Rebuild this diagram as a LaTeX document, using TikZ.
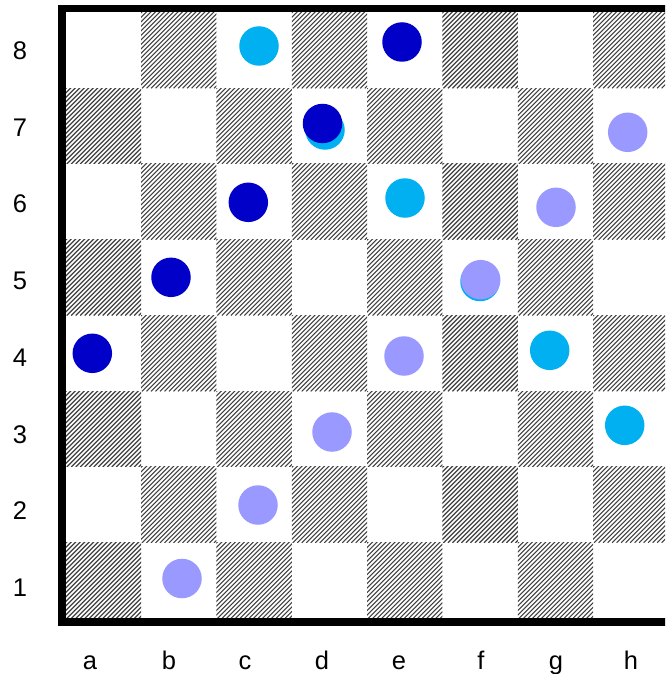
\documentclass[tikz,border=0pt]{standalone}
\usepackage{fontspec}
\setmainfont{Liberation Sans}
\definecolor{dkb}{HTML}{0000C8}
\definecolor{cyn}{HTML}{00B0F0}
\definecolor{lav}{HTML}{9999FF}
\begin{document}
\begin{tikzpicture}[x=1pt,y=-1pt,
  disc/.style={circle,inner sep=0pt,minimum size=39.5pt,draw=none},
  lbl/.style={font=\fontsize{25.5}{25.5}\selectfont,anchor=base,inner sep=0pt},
  hatchline/.style={line width=1.1pt,draw=black!75}]
\useasboundingbox (0,0) rectangle (665,674);
\clip (0,0) rectangle (665,674);
\fill[white] (0,0) rectangle (665,674);
% dark (hatched) squares
\foreach \c in {0,...,7}{
  \foreach \r in {0,...,7}{
    \pgfmathtruncatemacro\pp{mod(\c+\r,2)}
    \ifnum\pp=1
      \pgfmathsetmacro\xa{65.7+75.35*\c}
      \pgfmathsetmacro\ya{12.3+75.75*\r}
      \begin{scope}
        \clip (\xa,\ya) rectangle ++(75.35,75.75);
        \foreach \t in {-80,-75.5,...,80}{
          \draw[hatchline] (\xa+\t,\ya+76) -- ++(80,-80);
        }
      \end{scope}
    \fi
  }
}
% border
\draw[line width=7.6pt] (62,8.5) rectangle (673,622);
% rank labels
\node[lbl] (r8) at (20,59.5) {8};
\node[lbl] (r7) at (20,136.2) {7};
\node[lbl] (r6) at (20,212.9) {6};
\node[lbl] (r5) at (20,289.6) {5};
\node[lbl] (r4) at (20,366.3) {4};
\node[lbl] (r3) at (20,443.0) {3};
\node[lbl] (r2) at (20,519.7) {2};
\node[lbl] (r1) at (20,596.4) {1};
% file labels
\node[lbl] (fa) at (90,669) {a};
\node[lbl] (fb) at (169,669) {b};
\node[lbl] (fc) at (245,669) {c};
\node[lbl] (fd) at (322,669) {d};
\node[lbl] (fe) at (399,669) {e};
\node[lbl] (ff) at (481,669) {f};
\node[lbl] (fg) at (556,669) {g};
\node[lbl] (fh) at (631,669) {h};
% cyan discs
\node[disc,fill=cyn] (cc8) at (259,46) {};
\node[disc,fill=cyn] (cd7) at (325,130) {};
\node[disc,fill=cyn] (ce6) at (405,198) {};
\node[disc,fill=cyn] (cf5) at (480,281.5) {};
\node[disc,fill=cyn] (cg4) at (549.7,350.3) {};
\node[disc,fill=cyn] (ch3) at (624.7,425.3) {};
% dark blue discs
\node[disc,fill=dkb] (de8) at (402,42) {};
\node[disc,fill=dkb] (dd7) at (322.5,123.5) {};
\node[disc,fill=dkb] (dc6) at (248.3,202.3) {};
\node[disc,fill=dkb] (db5) at (171,277.3) {};
\node[disc,fill=dkb] (da4) at (92.3,353.3) {};
% lavender discs
\node[disc,fill=lav] (lh7) at (627.7,132.3) {};
\node[disc,fill=lav] (lg6) at (556,207.3) {};
\node[disc,fill=lav] (lf5) at (480.7,279.7) {};
\node[disc,fill=lav] (le4) at (404,356) {};
\node[disc,fill=lav] (ld3) at (332,432) {};
\node[disc,fill=lav] (lc2) at (258,505) {};
\node[disc,fill=lav] (lb1) at (182,578.5) {};
\end{tikzpicture}
\end{document}
